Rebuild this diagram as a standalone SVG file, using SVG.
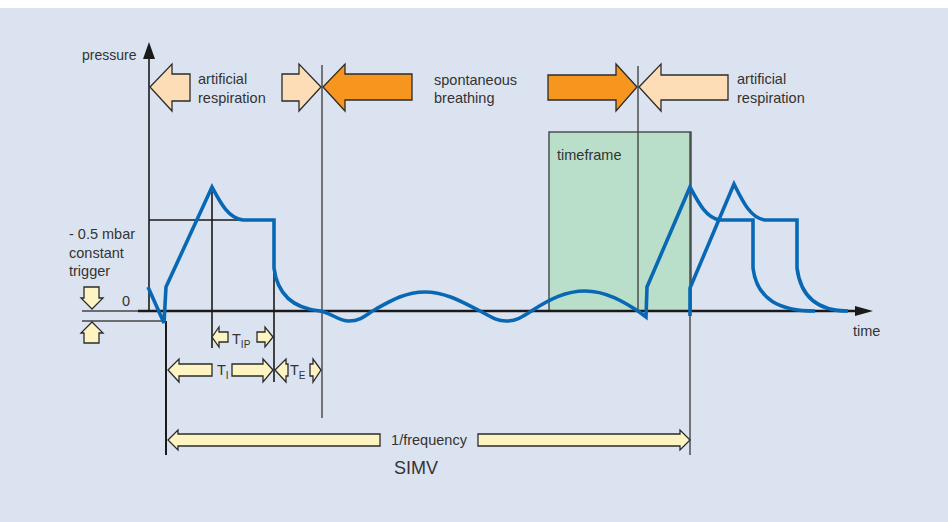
<svg xmlns="http://www.w3.org/2000/svg" width="948" height="522" viewBox="0 0 948 522">
  <style>
    .lbl { font-family: "Liberation Sans", Arial, sans-serif; font-size: 14.5px; fill: #333; }
    .sub { font-family: "Liberation Sans", Arial, sans-serif; font-size: 10px; fill: #333; }
    .big { font-size: 18px; }
    .small { font-size: 14px; }
    .peach { fill: #fdddb6; stroke: #2b2b2b; stroke-width: 1.3; stroke-linejoin: miter; }
    .orange { fill: #f7961f; stroke: #2b2b2b; stroke-width: 1.3; }
    .yellow { fill: #fdf4c2; stroke: #2b2b2b; stroke-width: 1.3; }
    .thin { stroke: #444; stroke-width: 1.4; fill: none; }
    .dark { stroke: #1a1a1a; stroke-width: 1.6; fill: none; }
    .curve { stroke: #0868b4; stroke-width: 3.6; fill: none; stroke-linejoin: miter; stroke-linecap: butt; }
  </style>

  <!-- backdrop -->
  <rect x="0" y="0" width="948" height="522" fill="#ffffff"/>
  <rect x="0" y="8" width="948" height="514" fill="#dce3f0"/>

  <!-- timeframe window -->
  <g id="timeframe">
    <rect x="549" y="132" width="142" height="179" fill="#b9dfca" stroke="#444" stroke-width="1.4"/>
    <text class="lbl" x="557" y="160">timeframe</text>
  </g>

  <!-- guide lines and axes -->
  <g id="connectors">
    <!-- pressure axis -->
    <line class="dark" x1="149" y1="311" x2="149" y2="56"/>
    <path d="M149,42 L155,59 L143,59 Z" fill="#1a1a1a"/>
    <!-- time axis -->
    <line x1="82" y1="311" x2="138" y2="311" stroke="#444" stroke-width="1.3"/>
    <line x1="138" y1="311" x2="857" y2="311" stroke="#1a1a1a" stroke-width="2.4"/>
    <path d="M873,311 L855,306 L855,316 Z" fill="#1a1a1a"/>
    <!-- trigger level -->
    <line x1="82" y1="321" x2="162" y2="321" stroke="#444" stroke-width="1.3"/>
    <!-- plateau level -->
    <line class="dark" x1="149" y1="220" x2="243" y2="220"/>
    <!-- vertical markers -->
    <line x1="166" y1="321" x2="166" y2="455" stroke="#1a1a1a" stroke-width="2"/>
    <line class="dark" x1="212" y1="187" x2="212" y2="348"/>
    <line class="dark" x1="274" y1="220" x2="274" y2="382"/>
    <line class="thin" x1="322" y1="65" x2="322" y2="418"/>
    <line class="thin" x1="638" y1="66" x2="638" y2="311"/>
    <line class="thin" x1="690" y1="132" x2="690" y2="455"/>
  </g>

  <!-- pressure trace -->
  <g id="pressure-trace">
    <path class="curve" d="M148,287 L164,323 L166,287 L212,187 C220,202 228,218 243,220 L274,220 L274,268 C278,300 300,309 320,311 C332,313 338,321 349,321 C362,321 368,313 376,309 C392,300 406,292 425,292 C446,292 464,303 480,311 C490,316 496,321 506,321 C518,321 525,315 533,310 C550,299 566,291 585,291 C606,291 624,302 638,311 L646,317 L647,287 L690,187 C698,202 706,218 720,220 L753,220 L753,268 C757,300 780,311 815,311"/>
    <path class="curve" d="M690,316 L690,288 L734,184 C742,200 750,218 765,220 L797,220 L797,268 C801,300 822,311 848,311"/>
  </g>

  <!-- phase arrows -->
  <g id="artificial-1">
    <path class="peach" d="M150,87 L172,64 L172,74 L190,74 L190,101 L172,101 L172,111 Z"/>
    <text class="lbl" x="198" y="84">artificial</text>
    <text class="lbl" x="198" y="103">respiration</text>
  </g>
  <g id="artificial-1-end">
    <path class="peach" d="M321,87 L299,64 L299,74 L282,74 L282,101 L299,101 L299,111 Z"/>
  </g>
  <g id="spontaneous">
    <path class="orange" d="M323,87 L345,64 L345,74 L412,74 L412,100 L345,100 L345,111 Z"/>
    <path class="orange" d="M637,87 L616,64 L616,75 L548,75 L548,100 L616,100 L616,111 Z"/>
    <text class="lbl" x="434" y="85">spontaneous</text>
    <text class="lbl" x="434" y="103">breathing</text>
  </g>
  <g id="artificial-2">
    <path class="peach" d="M639,87 L661,64 L661,75 L728,75 L728,100 L661,100 L661,111 Z"/>
    <text class="lbl" x="737" y="84">artificial</text>
    <text class="lbl" x="737" y="103">respiration</text>
  </g>

  <!-- axis labels -->
  <g id="axis-labels">
    <text class="lbl small" x="82" y="60">pressure</text>
    <text class="lbl" x="853" y="336">time</text>
    <text class="lbl" x="122" y="306">0</text>
  </g>

  <!-- trigger -->
  <g id="trigger">
    <text class="lbl" x="69" y="239">- 0.5 mbar</text>
    <text class="lbl" x="69" y="258">constant</text>
    <text class="lbl" x="69" y="276">trigger</text>
    <path class="yellow" d="M92,309 L81,298 L84,298 L84,287 L99,287 L99,298 L103,298 Z"/>
    <path class="yellow" d="M92,322 L103,333 L99,333 L99,343 L84,343 L84,333 L81,333 Z"/>
  </g>

  <!-- inspiratory pause -->
  <g id="t-ip">
    <path class="yellow" d="M212,337 L219,327 L219,332 L228,332 L228,342 L219,342 L219,347 Z"/>
    <path class="yellow" d="M273,337 L265,327 L265,332 L257,332 L257,342 L265,342 L265,347 Z"/>
    <text class="lbl" x="232" y="344">T<tspan class="sub" dy="4">IP</tspan></text>
  </g>

  <!-- inspiration time -->
  <g id="t-i">
    <path class="yellow" d="M168,370 L179,359 L179,364 L212,364 L212,376 L179,376 L179,382 Z"/>
    <path class="yellow" d="M273,370 L263,359 L263,364 L232,364 L232,376 L263,376 L263,382 Z"/>
    <text class="lbl" x="217" y="375">T<tspan class="sub" dy="4">I</tspan></text>
  </g>

  <!-- expiration time -->
  <g id="t-e">
    <path class="yellow" d="M275,370 L286,359 L286,364 L288,364 L288,376 L286,376 L286,382 Z"/>
    <path class="yellow" d="M321,370 L313,359 L313,364 L310,364 L310,376 L313,376 L313,382 Z"/>
    <text class="lbl" x="290" y="375">T<tspan class="sub" dy="4">E</tspan></text>
  </g>

  <!-- cycle length -->
  <g id="cycle">
    <path class="yellow" d="M168,440 L178,430 L178,434 L380,434 L380,446 L178,446 L178,450 Z"/>
    <path class="yellow" d="M690,440 L680,430 L680,434 L478,434 L478,446 L680,446 L680,450 Z"/>
    <text class="lbl" x="429" y="445" text-anchor="middle">1/frequency</text>
    <text class="lbl big" x="416" y="474" text-anchor="middle">SIMV</text>
  </g>
</svg>
